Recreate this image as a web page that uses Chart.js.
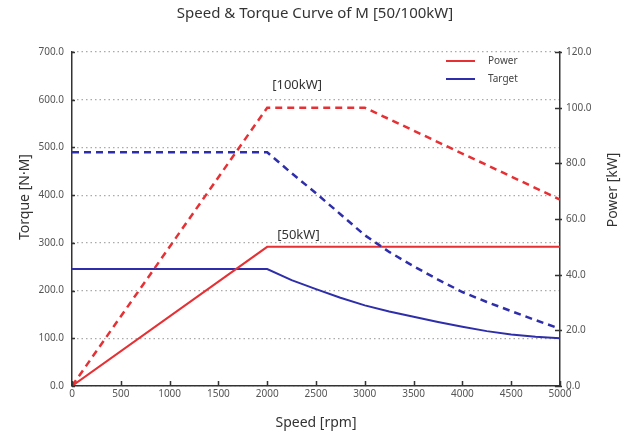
<!DOCTYPE html>
<html lang="en">
<head>
    <meta charset="UTF-8">
    <title>Speed & Torque Curve of M [50/100kW]</title>
    <script src="https://cdn.jsdelivr.net/npm/chart.js"></script>
    <style>
        body {
            margin: 0;
            background-color: #fff;
        }
        .chart-container {
            width: 630px;
            height: 434px;
        }
    </style>
</head>
<body>
    <div class="chart-container">
        <canvas id="curveChart"></canvas>
    </div>

    <script>
        // Power curves (kW) against speed (rpm)
        const speed50kW = [0, 2000, 5000];
        const power50kW = [0, 50, 50];
        const speed100kW = [0, 2000, 3000, 5000];
        const power100kW = [0, 100, 100, 67];

        // Target torque curves (N·M)
        const torqueSpeed = [0, 2000, 2250, 2500, 2750, 3000, 3250, 3500, 3750, 4000, 4250, 4500, 4750, 5000];
        const torque50kW = [245, 245, 222, 203, 185, 169, 156, 145, 134, 124, 115, 108, 103, 100];
        const torque100kW = [490, 490, 446, 404, 360, 316, 281, 251, 223, 197, 176, 157, 138, 120];

        const speedTicks = [0, 500, 1000, 1500, 2000, 2500, 3000, 3500, 4000, 4500, 5000];
        const torqueTicks = [0, 100, 200, 300, 400, 500, 600, 700];
        const powerTicks = [0, 20, 40, 60, 80, 100, 120];

        const RED = '#e63034';
        const BLUE = '#2e2eaa';
        const FONT = "'Noto Sans', 'DejaVu Sans', sans-serif";

        const toPoints = (xs, ys) => xs.map((x, i) => ({ x: x, y: ys[i] }));

        // small tick marks pointing into the plot, titles, legend and kW notes
        const decorations = {
            id: 'decorations',
            afterDraw(chart) {
                const c = chart.ctx;
                const area = chart.chartArea;
                const sx = chart.scales.x, sy = chart.scales.y, sp = chart.scales.y1;

                c.save();
                c.strokeStyle = '#333';
                c.lineWidth = 1.5;
                c.beginPath();
                speedTicks.forEach(v => {
                    const px = Math.round(sx.getPixelForValue(v)) + 0.5;
                    c.moveTo(px, area.bottom);
                    c.lineTo(px, area.bottom - 5);
                });
                powerTicks.forEach(v => {
                    const py = Math.round(sp.getPixelForValue(v)) + 0.5;
                    c.moveTo(area.right - 5, py);
                    c.lineTo(area.right + 2, py);
                });
                torqueTicks.forEach(v => {
                    const py = Math.round(sy.getPixelForValue(v)) + 0.5;
                    c.moveTo(area.left, py);
                    c.lineTo(area.left + 3, py);
                });
                c.stroke();

                // axis titles
                c.fillStyle = '#333';
                c.font = '14px ' + FONT;
                c.textAlign = 'center';
                c.textBaseline = 'middle';
                c.fillText('Speed [rpm]', (area.left + area.right) / 2, 423);

                c.save();
                c.translate(25, 197);
                c.rotate(-Math.PI / 2);
                c.fillText('Torque [N·M]', 0, 0);
                c.restore();

                c.save();
                c.translate(613, 190);
                c.rotate(-Math.PI / 2);
                c.fillText('Power [kW]', 0, 0);
                c.restore();

                // legend
                c.lineWidth = 2;
                [['Power', RED, 61], ['Target', BLUE, 79]].forEach(([label, color, y]) => {
                    c.strokeStyle = color;
                    c.beginPath();
                    c.moveTo(446, y);
                    c.lineTo(475, y);
                    c.stroke();
                    c.fillStyle = '#444';
                    c.font = '10px ' + FONT;
                    c.textAlign = 'left';
                    c.fillText(label, 488, y);
                });

                // power level notes
                c.fillStyle = '#333';
                c.font = '13px ' + FONT;
                c.textAlign = 'left';
                c.fillText('[100kW]', sx.getPixelForValue(2000) + 5, sp.getPixelForValue(100) - 22);
                c.fillText('[50kW]', sx.getPixelForValue(2000) + 10, sp.getPixelForValue(50) - 12);
                c.restore();
            }
        };

        const ctx = document.getElementById('curveChart').getContext('2d');
        const curveChart = new Chart(ctx, {
            type: 'line',
            data: {
                datasets: [
                    {
                        label: 'Power 100kW',
                        data: toPoints(speed100kW, power100kW),
                        yAxisID: 'y1',
                        borderColor: RED,
                        borderWidth: 2.5,
                        borderDash: [7, 5]
                    },
                    {
                        label: 'Target 100kW',
                        data: toPoints(torqueSpeed, torque100kW),
                        yAxisID: 'y',
                        borderColor: BLUE,
                        borderWidth: 2.5,
                        borderDash: [7, 5]
                    },
                    {
                        label: 'Power 50kW',
                        data: toPoints(speed50kW, power50kW),
                        yAxisID: 'y1',
                        borderColor: RED,
                        borderWidth: 2
                    },
                    {
                        label: 'Target 50kW',
                        data: toPoints(torqueSpeed, torque50kW),
                        yAxisID: 'y',
                        borderColor: BLUE,
                        borderWidth: 2
                    }
                ]
            },
            options: {
                responsive: true,
                maintainAspectRatio: false,
                animation: false,
                layout: { padding: 0 },
                elements: {
                    point: { radius: 0 },
                    line: { tension: 0, fill: false }
                },
                scales: {
                    x: {
                        type: 'linear',
                        min: 0,
                        max: 5000,
                        afterBuildTicks: s => { s.ticks = speedTicks.map(v => ({ value: v })); },
                        ticks: {
                            font: { family: FONT, size: 10 },
                            color: '#555',
                            padding: 2,
                            maxRotation: 0,
                            callback: v => String(v)
                        },
                        grid: { display: false, drawTicks: false },
                        border: { color: '#333', width: 1.5 },
                        afterFit: s => { s.height = 48; }
                    },
                    y: {
                        position: 'left',
                        min: 0,
                        max: 700,
                        afterBuildTicks: s => { s.ticks = torqueTicks.map(v => ({ value: v })); },
                        ticks: {
                            font: { family: FONT, size: 10 },
                            color: '#555',
                            padding: 8,
                            callback: v => v.toFixed(1)
                        },
                        grid: { color: '#aaa', lineWidth: 1.2, drawTicks: false },
                        border: { color: '#333', width: 1.5, dash: [1.5, 3] },
                        afterFit: s => { s.width = 72; }
                    },
                    y1: {
                        position: 'right',
                        min: 0,
                        max: 120,
                        afterBuildTicks: s => { s.ticks = powerTicks.map(v => ({ value: v })); },
                        ticks: {
                            font: { family: FONT, size: 10 },
                            color: '#555',
                            padding: 6,
                            callback: v => v.toFixed(1)
                        },
                        grid: { drawOnChartArea: false, drawTicks: false },
                        border: { color: '#333', width: 1.5 },
                        afterFit: s => { s.width = 70; }
                    }
                },
                plugins: {
                    title: {
                        display: true,
                        text: 'Speed & Torque Curve of M [50/100kW]',
                        color: '#333',
                        font: { family: FONT, size: 15, weight: 'normal' },
                        padding: { top: 5, bottom: 29 }
                    },
                    legend: { display: false },
                    tooltip: { enabled: false }
                }
            },
            plugins: [decorations]
        });
    </script>
</body>
</html>
